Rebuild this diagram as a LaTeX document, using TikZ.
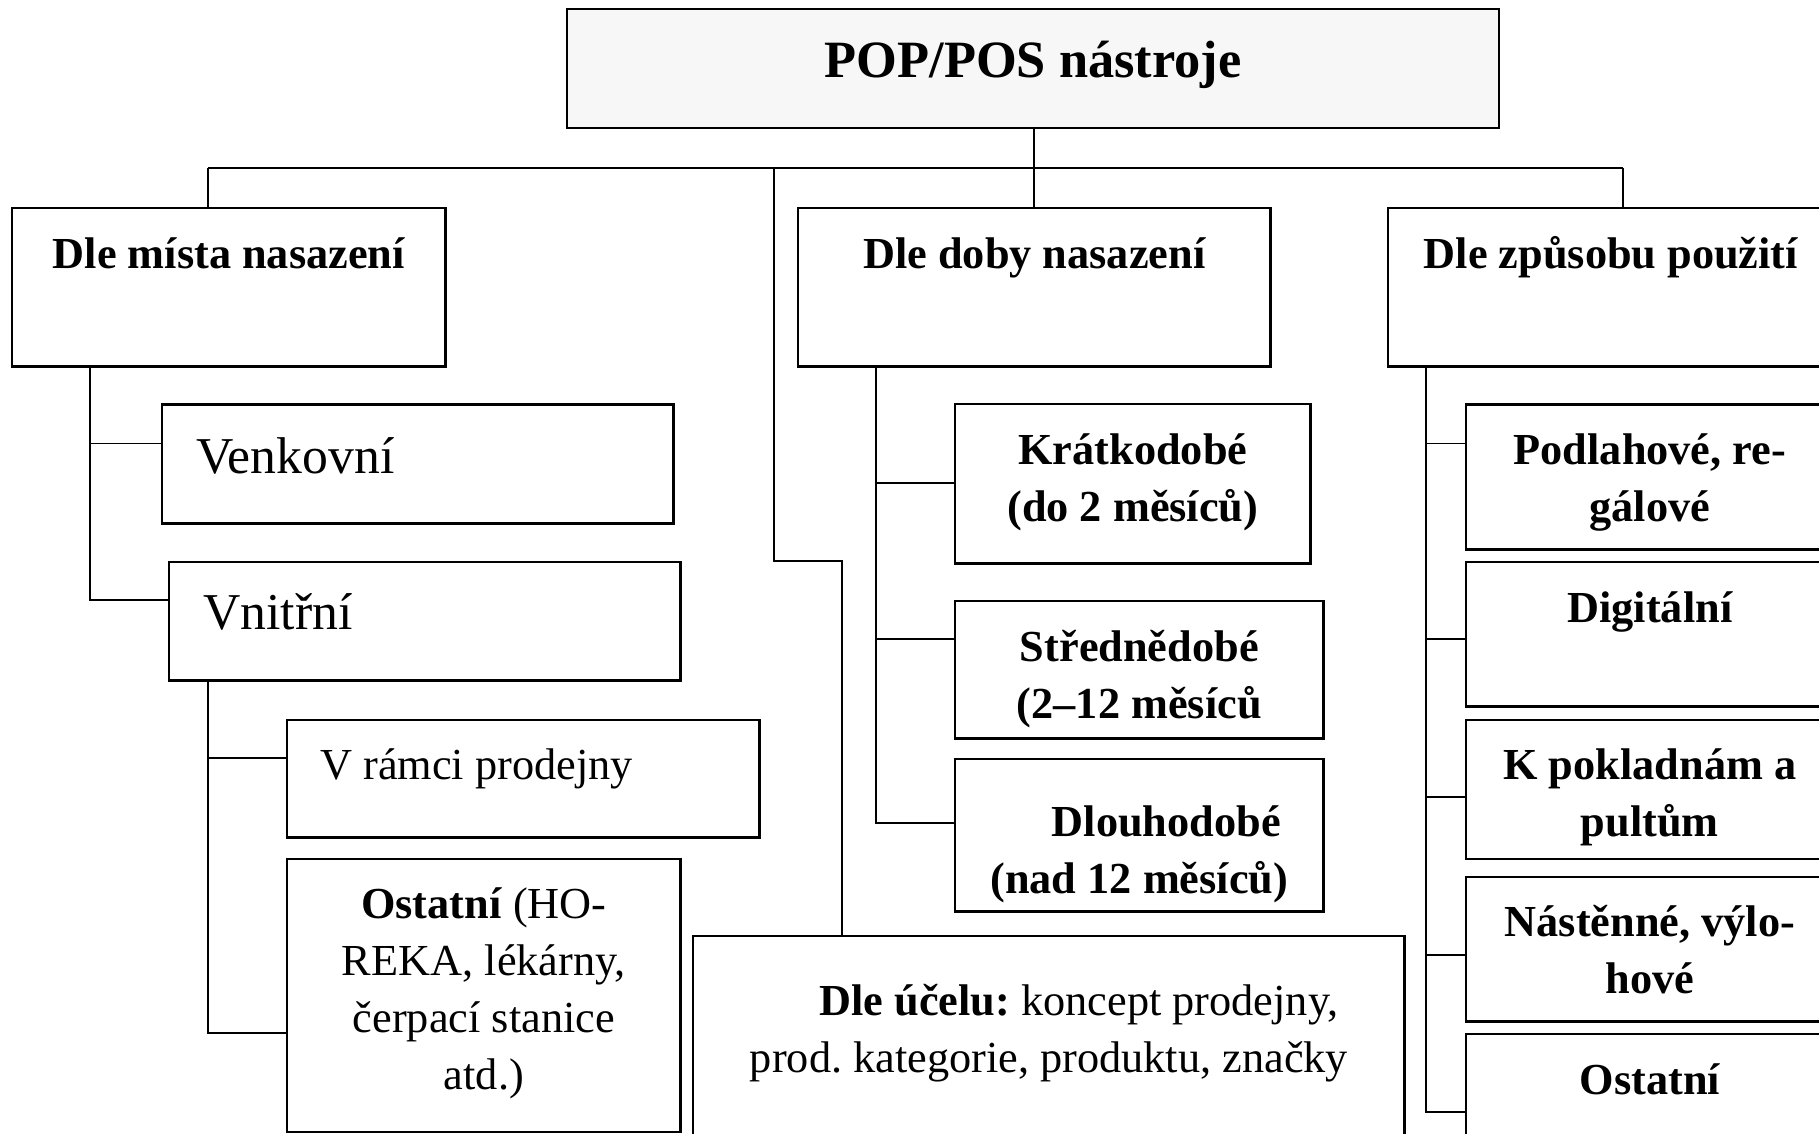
\documentclass[tikz,border=0pt]{standalone}
\usepackage{fontspec}
\setmainfont{Liberation Serif}
\frenchspacing
\definecolor{rootgray}{RGB}{247,247,247}
\tikzset{
  cellpad/.store in=\cellpad, cellpad=0.2cm,
  cellalign/.store in=\cellalign, cellalign=\centering,
  cell/.style 2 args={draw, line width=0.7pt, inner sep=0pt, anchor=north west,
    font=\fontsize{12.6}{16.2}\selectfont\bfseries,
    execute at begin node={\begin{minipage}[t][#2][t]{#1}\cellalign\vspace*{\cellpad}\strut},
    execute at end node={\end{minipage}}},
  link/.style={line width=0.55pt}
}
\begin{document}
\begin{tikzpicture}[x=0.01cm,y=-0.01cm]
\useasboundingbox (0,0) rectangle (1819,1134);
\clip (0,0) rectangle (1819,1134);

\draw (566,8) node[cell={9.31cm}{1.185cm}, fill=rootgray, cellpad=0.236cm, font=\fontsize{14.9}{18}\selectfont\bfseries] (p0) {POP/POS nástroje};

\draw (11,207) node[cell={4.33cm}{1.58cm}] (p1) {Dle místa nasazení};
\draw (797,207) node[cell={4.72cm}{1.58cm}] (p2) {Dle doby nasazení};
\draw (1387,207) node[cell={4.45cm}{1.58cm}] (p3) {Dle způsobu použití};
\draw (692,935) node[cell={7.11cm}{2.45cm}, cellpad=0.39cm, font=\fontsize{12.6}{16.2}\selectfont] (p4) {\hspace*{0.6cm}\textbf{Dle účelu:} koncept prodejny,\\prod. kategorie, produktu, značky};

\draw (161,403.5) node[cell={5.11cm}{1.185cm}, cellpad=0.24cm, cellalign=\raggedright, font=\fontsize{14.7}{18}\selectfont] (m1) {\hspace*{0.34cm}Venkovní};
\draw (168,561) node[cell={5.11cm}{1.18cm}, cellpad=0.23cm, cellalign=\raggedright, font=\fontsize{14.7}{18}\selectfont] (m2) {\hspace*{0.34cm}Vnitřní};
\draw (286,718.5) node[cell={4.72cm}{1.175cm}, cellalign=\raggedright, font=\fontsize{12.6}{16.2}\selectfont] (m3) {\hspace*{0.33cm}V rámci prodejny};
\draw (286,857.6) node[cell={3.93cm}{2.73cm}, font=\fontsize{12.6}{16.2}\selectfont] (m4) {\textbf{Ostatní} (HO-\\REKA, lékárny,\\čerpací stanice\\atd.)};

\draw (954,403) node[cell={3.55cm}{1.59cm}] (d1) {Krátkodobé\\(do 2 měsíců)};
\draw (954,600) node[cell={3.68cm}{1.37cm}] (d2) {Střednědobé\\(2--12 měsíců};
\draw (954,758) node[cell={3.68cm}{1.52cm}, cellpad=0.37cm] (d3) {\hspace*{0.54cm}Dlouhodobé\\(nad 12 měsíců)};

\draw (1465,403.5) node[cell={3.67cm}{1.445cm}] (z1) {Podlahové, re-\\gálové};
\draw (1465,561) node[cell={3.67cm}{1.44cm}] (z2) {Digitální};
\draw (1465,718.5) node[cell={3.67cm}{1.39cm}] (z3) {K pokladnám a\\pultům};
\draw (1465,875.5) node[cell={3.67cm}{1.445cm}] (z4) {Nástěnné, výlo-\\hové};
\draw (1465,1033) node[cell={3.67cm}{1.5cm}] (z5) {Ostatní};

\coordinate (b1) at (208,168);
\coordinate (b4) at (774,168);
\coordinate (b3) at (1623,168);
\coordinate (c4) at (842,561);
\draw[link] (p2.north |- p0.south) -- (p2.north);
\draw[link] (b1) -- (b3);
\draw[link] (b1) -- (b1 |- p1.north);
\draw[link] (b3) -- (b3 |- p3.north);
\draw[link] (b4) |- (c4) -- (c4 |- p4.north);

\draw[link] (p1.south -| 90,0) |- (m1.west |- 0,443.5);
\draw[link] (p1.south -| 90,0) |- (m2.west |- 0,600);
\draw[link] (m2.south -| 208,0) |- (m3.west |- 0,758);
\draw[link] (m2.south -| 208,0) |- (m4.west |- 0,1033);

\draw[link] (p2.south -| 876,0) |- (d1.west |- 0,483);
\draw[link] (p2.south -| 876,0) |- (d2.west |- 0,639);
\draw[link] (p2.south -| 876,0) |- (d3.west |- 0,823);

\draw[link] (p3.south -| 1426,0) |- (z1.west |- 0,443.5);
\draw[link] (p3.south -| 1426,0) |- (z2.west |- 0,639);
\draw[link] (p3.south -| 1426,0) |- (z3.west |- 0,797);
\draw[link] (p3.south -| 1426,0) |- (z4.west |- 0,955);
\draw[link] (p3.south -| 1426,0) |- (z5.west |- 0,1112);
\end{tikzpicture}
\end{document}
